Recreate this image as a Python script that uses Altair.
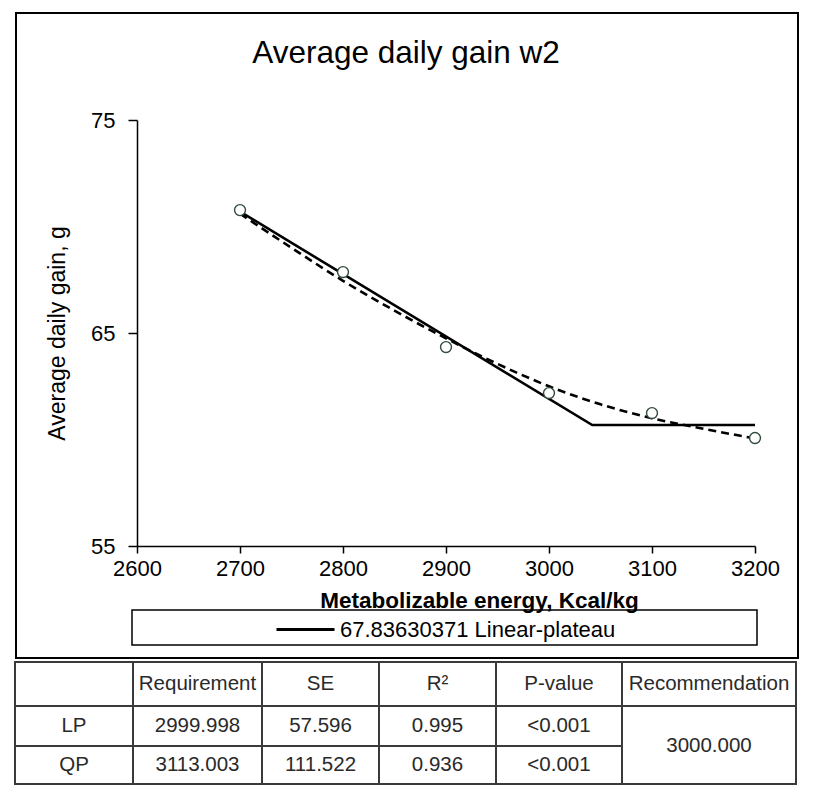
import altair as alt
import pandas as pd

# ---------------- data ----------------
me_levels = [2700, 2800, 2900, 3000, 3100, 3200]
adg_obs = [70.77, 67.86, 64.34, 62.18, 61.24, 60.07]

lp_x = [2700, 3042, 3200]
lp_y = [70.70, 60.68, 60.68]

qp_x = [2700, 2750, 2800, 2850, 2900, 2950, 3000, 3050, 3100, 3150, 3200]
qp_y = [70.60, 69.00, 67.45, 66.05, 64.75, 63.55, 62.50, 61.65, 61.00, 60.50, 60.05]

lp_label = "67.83630371 Linear-plateau"
x_ticks = [2600, 2700, 2800, 2900, 3000, 3100, 3200]
y_ticks = [55, 65, 75]

table_header = ["", "Requirement", "SE", "R²", "P-value", "Recommendation"]
table_models = ["LP", "QP"]
table_requirement = ["2999.998", "3113.003"]
table_se = ["57.596", "111.522"]
table_r2 = ["0.995", "0.936"]
table_p = ["<0.001", "<0.001"]
table_recommendation = "3000.000"

# ---------------- layout ----------------
W, H = 618, 426
col_edges_px = [-122, -4, 125, 242, 359, 485, 659]
row_edges_px = [542, 586, 626, 664]
FONT = "Liberation Sans, Arial, sans-serif"

obs_df = pd.DataFrame({"me": me_levels, "adg": adg_obs})
lp_df = pd.DataFrame({"me": lp_x, "adg": lp_y, "model": [lp_label] * len(lp_x)})
qp_df = pd.DataFrame({"me": qp_x, "adg": qp_y})

cells = []
for j, h in enumerate(table_header):
    cells.append(dict(c0=j, c1=j + 1, r0=0, r1=1, text=h))
for i, m in enumerate(table_models):
    vals = [m, table_requirement[i], table_se[i], table_r2[i], table_p[i]]
    for j, v in enumerate(vals):
        cells.append(dict(c0=j, c1=j + 1, r0=i + 1, r1=i + 2, text=v))
cells.append(dict(c0=5, c1=6, r0=1, r1=3, text=table_recommendation))
cell_df = pd.DataFrame(cells)
cell_df["cx"] = (cell_df["c0"] + cell_df["c1"]) / 2
cell_df["cy"] = (cell_df["r0"] + cell_df["r1"]) / 2

x_enc = alt.X(
    "me:Q",
    scale=alt.Scale(domain=[2600, 3200], nice=False, zero=False),
    axis=alt.Axis(
        values=x_ticks, format="d", grid=False, labelFlush=False, labelOverlap=False,
        labelFont=FONT, labelFontSize=22, labelColor="black",
        labelPadding=5, tickSize=7, tickColor="black", tickWidth=1.5,
        domainColor="black", domainWidth=1.5,
        title="Metabolizable energy, Kcal/kg", titleFont=FONT,
        titleFontSize=22.5, titleFontWeight="bold", titleColor="black",
        titleX=342, titleY=61, titleAlign="center", titleBaseline="alphabetic",
    ),
)
y_enc = alt.Y(
    "adg:Q",
    scale=alt.Scale(domain=[55, 75], nice=False, zero=False),
    axis=alt.Axis(
        values=y_ticks, format="d", grid=False,
        labelFont=FONT, labelFontSize=22, labelColor="black",
        labelPadding=13, tickSize=9, tickColor="black", tickWidth=1.5,
        domainColor="black", domainWidth=1.5,
        title="Average daily gain, g", titleFont=FONT,
        titleFontSize=23, titleFontWeight="normal", titleColor="black",
        titleX=-80, titleY=213, titleAngle=270, titleAlign="center",
        titleBaseline="middle",
    ),
)

deco_df = pd.DataFrame({"k": [0]})
frame = alt.Chart(deco_df).mark_rect(fill="white", fillOpacity=0, stroke="black", strokeWidth=2).encode(
    x=alt.value(-121), x2=alt.value(661), y=alt.value(-107), y2=alt.value(538)
)
legend_box = alt.Chart(deco_df).mark_rect(fill="white", fillOpacity=0, stroke="black", strokeWidth=1.5).encode(
    x=alt.value(-5), x2=alt.value(620), y=alt.value(490), y2=alt.value(525)
)

qp_line = alt.Chart(qp_df).mark_line(
    color="black", strokeWidth=2.6, strokeDash=[8, 5], interpolate="monotone"
).encode(x=x_enc, y=y_enc)

lp_line = alt.Chart(lp_df).mark_line(strokeWidth=2.6).encode(
    x=x_enc, y=y_enc,
    color=alt.Color(
        "model:N",
        scale=alt.Scale(domain=[lp_label], range=["black"]),
        legend=alt.Legend(
            title=None, orient="none", legendX=138, legendY=479,
            labelFont=FONT, labelFontSize=22, labelColor="black",
            labelLimit=800, labelOffset=4, symbolType="stroke", symbolSize=3364,
            symbolStrokeWidth=3, padding=0,
        ),
    ),
)

points = alt.Chart(obs_df).mark_point(
    shape="circle", filled=True, fill="white", stroke="#2f4a38",
    strokeWidth=1.4, size=120, opacity=1,
).encode(x=x_enc, y=y_enc)

main = alt.layer(frame, legend_box, qp_line, lp_line, points)

tx = alt.X("cx:Q", scale=alt.Scale(domain=list(range(7)), range=col_edges_px, nice=False, zero=False), axis=None)
ty = alt.Y("cy:Q", scale=alt.Scale(domain=[0, 1, 2, 3], range=row_edges_px, nice=False, zero=False), axis=None)

table_cells = alt.Chart(cell_df).mark_rect(fill="white", stroke="#3a3a3a", strokeWidth=2).encode(
    x=alt.X("c0:Q", scale=alt.Scale(domain=list(range(7)), range=col_edges_px, nice=False, zero=False), axis=None),
    x2="c1:Q",
    y=alt.Y("r0:Q", scale=alt.Scale(domain=[0, 1, 2, 3], range=row_edges_px, nice=False, zero=False), axis=None),
    y2="r1:Q",
)
table_text = alt.Chart(cell_df).mark_text(
    font=FONT, fontSize=20.5, color="#2a2a2a", align="center", baseline="middle"
).encode(x=tx, y=ty, text="text:N")

table = alt.layer(table_cells, table_text)

chart = alt.layer(main, table).resolve_scale(x="independent", y="independent").properties(
    width=W, height=H,
    background="white",
    autosize=alt.AutoSizeParams(type="none"),
    padding={"left": 129, "top": 112, "right": 55, "bottom": 239},
    title=alt.TitleParams(
        "Average daily gain w2", font=FONT, fontSize=31.5, fontWeight="normal",
        color="black", anchor="middle", frame="group", offset=0, dx=-40, dy=82,
        baseline="alphabetic",
    ),
).configure_view(stroke="transparent", strokeWidth=0)

chart.save("out.html", embed_options={"renderer": "svg", "actions": False})
